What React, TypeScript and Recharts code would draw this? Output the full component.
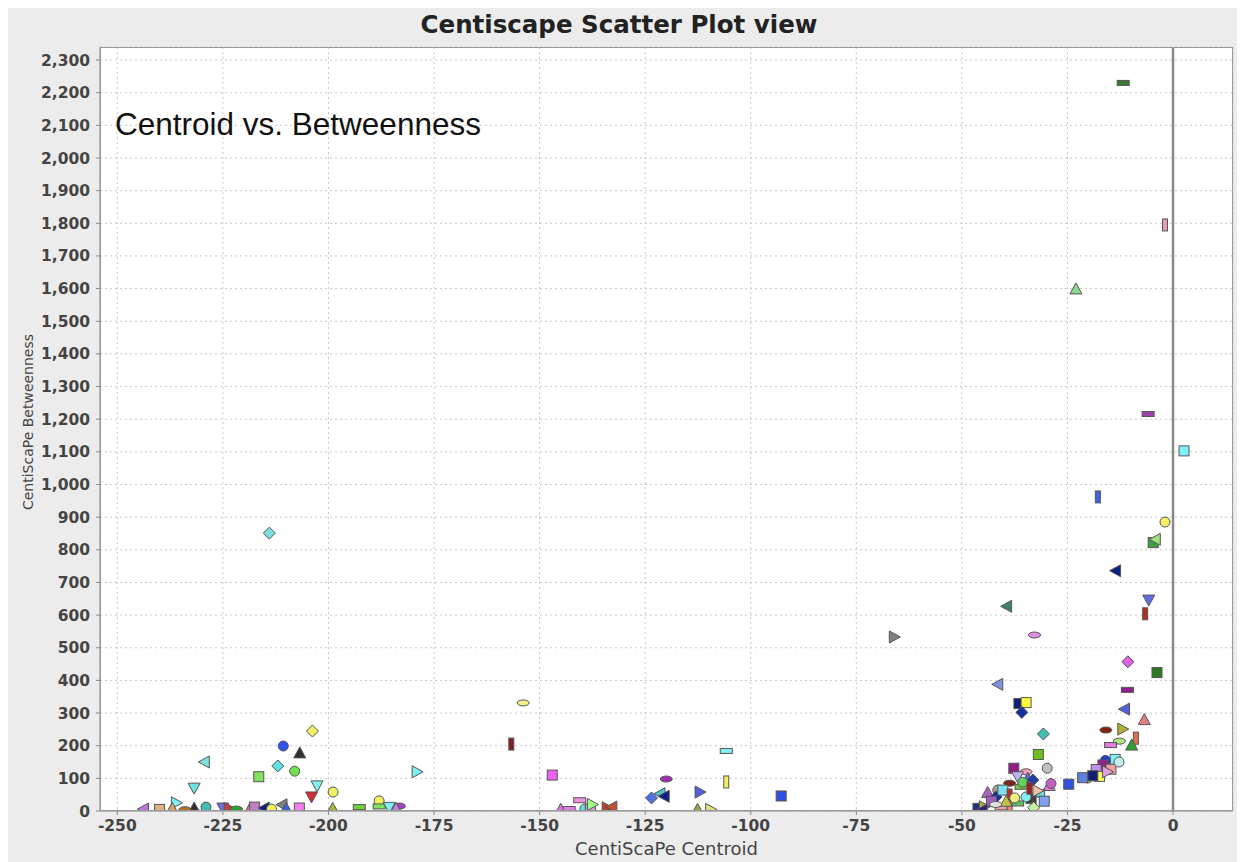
import React from 'react';
import { ScatterChart, Scatter, XAxis, YAxis, CartesianGrid, ReferenceLine } from 'recharts';

// ---- data (CentiScaPe Centroid vs. Betweenness) ----
const centroid: number[] = [
  -11.8, -1.9, -23, -5.9, 2.6, -17.8, -1.9, -4.7, -4.2, -13.6,
  -5.75, -6.6, -39.4, -32.8, -66, -10.7, -3.8, -41.5, -10.8, -36.5,
  -34.8, -35.8, -11.5, -6.8, -30.7, -15.9, -11.9, -8.8, -12.7, -14.8,
  -9.8, -31.9, -29.8, -37.7, -34.8, -24.7, -13.7, -16, -16.6, -14.7,
  -18.2, -17.4, -20.2, -19.0, -21.4, -12.8, -15.5, -36.8, -38.7, -34.4,
  -33.2, -29.3, -28.9, -31.6, -33.6, -34.8, -36, -41.5, -43.9, -41.9,
  -40.3, -38.7, -36.8, -40.7, -46.2, -44.7, -38.7, -35.6, -32, -39.5,
  -43, -37.5, -34, -42, -30.5, -45.2, -33,
  -153.9, -156.7, -147, -140.5, -145, -143, -139.3, -138, -137.5, -134,
  -132.9, -120, -123.5, -121.5, -120.5, -112, -105.8, -105.8, -92.8, -112.6,
  -109.5,
  -214, -203.8, -210.7, -206.8, -212, -208, -229.4, -216.5, -231.8, -202.7,
  -198.9, -204, -179,
  -243.8, -236, -237, -231.8, -229, -225, -223.5, -221.8, -218.5, -217.5,
  -215.2, -213.5, -211, -210, -206.9, -199, -192.7, -188, -188, -185.6,
  -183.2, -184, -240, -234,
];
const betweenness: number[] = [
  2230, 1795, 1599, 1216, 1103, 962, 885, 822, 832, 736,
  646, 604, 627, 539, 533, 457, 424, 388, 371, 329,
  332, 302, 312, 280, 236, 248, 251, 223, 214, 202,
  202, 173, 131, 131, 120, 82, 158, 155, 141, 128,
  127, 106, 101, 108, 102, 150, 120, 105, 85, 100,
  95, 78, 84, 50, 38, 43, 74, 64, 57, 43,
  64, 49, 23, 11, 8, 13, 13, 88, 62, 30,
  30, 40, 70, 20, 30, 3, 10,
  331, 205, 110, 33, 5, 6, 6, 6, 20, 10,
  12, 98, 40, 53, 45, 58, 184, 89, 46, 5,
  5,
  851, 245, 199, 178, 138, 122, 150, 105, 70, 77,
  58, 43, 120,
  6, 25, 8, 9, 12, 9, 8, 6, 9, 12,
  9, 6, 19, 8, 9, 8, 12, 31, 14, 11,
  15, 8, 5, 4,
];

const X_TICKS: number[] = [-250, -225, -200, -175, -150, -125, -100, -75, -50, -25, 0];
const Y_TICKS: number[] = [0, 100, 200, 300, 400, 500, 600, 700, 800, 900, 1000, 1100, 1200,
  1300, 1400, 1500, 1600, 1700, 1800, 1900, 2000, 2100, 2200, 2300];

const TITLE = 'Centiscape Scatter Plot view';
const SUBTITLE = 'Centroid vs. Betweenness';
const X_LABEL = 'CentiScaPe Centroid';
const Y_LABEL = 'CentiScaPe Betweenness';

// ---- marker styles (one per node, as in the JFreeChart view) ----
const MARKER_KIND: string[] = [
  'hr', 'vr', 'tu', 'hr', 'sq', 'vr', 'ci', 'sq', 'tl', 'tl',
  'td', 'vr', 'tl', 'el', 'tr', 'di', 'sq', 'tl', 'hr', 'sq',
  'sq', 'di', 'tl', 'tu', 'di', 'el', 'tr', 'vr', 'el', 'hr',
  'tu', 'sq', 'ci', 'sq', 'el', 'sq', 'sq', 'ci', 'sq', 'sq',
  'sq', 'sq', 'ci', 'sq', 'sq', 'ci', 'tr', 'td', 'el', 'tu',
  'di', 'tu', 'ci', 'tl', 'sq', 'ci', 'hr', 'ci', 'tu', 'di',
  'sq', 'vr', 'hr', 'hr', 'sq', 'tr', 'vr', 'ci', 'tr', 'tu',
  'sq', 'ci', 'vr', 'el', 'sq', 'tl', 'di',
  'el', 'vr', 'sq', 'hr', 'tu', 'hr', 'ci', 'sq', 'tr', 'tr',
  'tl', 'el', 'di', 'tl', 'tl', 'tr', 'hr', 'vr', 'sq', 'tu',
  'tr',
  'di', 'di', 'ci', 'tu', 'di', 'ci', 'tl', 'sq', 'td', 'td',
  'ci', 'td', 'tr',
  'tl', 'tr', 'tu', 'tu', 'ci', 'td', 'tr', 'el', 'tu', 'sq',
  'tl', 'ci', 'tl', 'tu', 'sq', 'tu', 'hr', 'ci', 'hr', 'td',
  'el', 'tu', 'sq', 'el',
];
const MARKER_COLOR: string[] = [
  '#3a7a2a', '#e8a0b0', '#90d890', '#a040b0', '#80f0f8', '#4060e0', '#f8f060', '#40a040', '#a0e080', '#102080',
  '#6070e0', '#b03020', '#408070', '#e090e0', '#808080', '#e060e0', '#2a7a20', '#8090e0', '#902090', '#102070',
  '#ffff40', '#1830a0', '#5060e0', '#e08080', '#40c0b0', '#802010', '#b0b030', '#e07050', '#b0f080', '#e080e0',
  '#30a030', '#70c020', '#c0c0c0', '#902080', '#f0a0c0', '#3050e0', '#80f0ff', '#2040c0', '#902090', '#f0a0a0',
  '#c090f0', '#ffff60', '#80e040', '#102070', '#6080e0', '#c0f0f0', '#e0a0e0', '#c0b0f0', '#802020', '#5070e0',
  '#2040a0', '#e080e0', '#c060c0', '#60e0e0', '#404040', '#80f0f0', '#80c040', '#a0a0a0', '#b060c0', '#1030a0',
  '#80e0f0', '#c03030', '#60c060', '#f0a0a0', '#203080', '#b0b040', '#f08080', '#60d060', '#f0c0a0', '#c0c040',
  '#a060c0', '#f0f080', '#a02020', '#e0e0e0', '#80a0f0', '#302080', '#c0f0a0',
  '#f0f080', '#802020', '#f060f0', '#f090e0', '#e070e0', '#e080e0', '#60e0e0', '#e0a0e0', '#a0ff80', '#c04030',
  '#c05030', '#a030b0', '#5070e0', '#50c0d0', '#102080', '#5060e0', '#80f0f0', '#f0f060', '#3050e0', '#a0a040',
  '#e0e080',
  '#80e0e0', '#f0f060', '#3050f0', '#303030', '#60e0e0', '#70e050', '#80e0e0', '#80e060', '#70e0e0', '#80f0f0',
  '#f0f060', '#d03030', '#80f0f0',
  '#c070e0', '#80f0f0', '#e0a060', '#303030', '#40c0b0', '#7070e0', '#c04040', '#30a030', '#e070a0', '#c080c0',
  '#102080', '#f0f060', '#808080', '#4060e0', '#f080f0', '#b0b040', '#70d040', '#f0f060', '#80e060', '#80f0f0',
  '#a040c0', '#c080e0', '#e0b080', '#b07020',
];

const points = centroid.map((x, i) => ({ x, y: betweenness[i], i }));

const Marker = (props: any) => {
  const { cx, cy, payload } = props;
  if (cx == null || cy == null) return null;
  const i = payload.i;
  const kind = MARKER_KIND[i % MARKER_KIND.length];
  const fill = MARKER_COLOR[i % MARKER_COLOR.length];
  const s = { fill, stroke: '#555', strokeWidth: 1 };
  switch (kind) {
    case 'sq':
      return <rect x={cx - 5} y={cy - 5} width={10} height={10} {...s} />;
    case 'ci':
      return <circle cx={cx} cy={cy} r={5} {...s} />;
    case 'tu':
      return <polygon points={`${cx},${cy - 6} ${cx + 6},${cy + 5} ${cx - 6},${cy + 5}`} {...s} />;
    case 'td':
      return <polygon points={`${cx},${cy + 6} ${cx + 6},${cy - 5} ${cx - 6},${cy - 5}`} {...s} />;
    case 'tl':
      return <polygon points={`${cx - 6},${cy} ${cx + 5},${cy - 6} ${cx + 5},${cy + 6}`} {...s} />;
    case 'tr':
      return <polygon points={`${cx + 6},${cy} ${cx - 5},${cy - 6} ${cx - 5},${cy + 6}`} {...s} />;
    case 'di':
      return <polygon points={`${cx},${cy - 6} ${cx + 6},${cy} ${cx},${cy + 6} ${cx - 6},${cy}`} {...s} />;
    case 'hr':
      return <rect x={cx - 6} y={cy - 2.5} width={12} height={5} {...s} />;
    case 'vr':
      return <rect x={cx - 2.5} y={cy - 6} width={5} height={12} {...s} />;
    case 'el':
    default:
      return <ellipse cx={cx} cy={cy} rx={6} ry={3} {...s} />;
  }
};

const W = 1237;
const H = 854;
const M = { top: 39, right: 12, bottom: 21, left: 32 };
const YW = 60;
const XH = 30;

const tickStyle = { fill: '#444', fontSize: 15.5, fontFamily: 'DejaVu Sans', fontWeight: 'bold' as const };

export default function App() {
  const plotL = M.left + YW;
  const plotT = M.top;
  const plotW = W - M.right - plotL;
  const plotH = H - M.bottom - XH - plotT;
  return (
    <div style={{ position: 'relative', width: W, height: H, background: '#ececec', overflow: 'hidden' }}>
      <ScatterChart width={W} height={H} margin={M}>
        <CartesianGrid fill="#ffffff" stroke="#c8c8c8" strokeDasharray="2 3" />
        <XAxis
          type="number"
          dataKey="x"
          domain={[-254.1, 14.2]}
          ticks={X_TICKS}
          allowDataOverflow
          height={XH}
          tickSize={4}
          tickMargin={5}
          stroke="#888"
          tick={tickStyle}
          interval={0}
        />
        <YAxis
          type="number"
          dataKey="y"
          domain={[0, 2340]}
          ticks={Y_TICKS}
          allowDataOverflow
          width={YW}
          tickSize={4}
          tickMargin={6}
          stroke="#888"
          tick={tickStyle}
          interval={0}
          tickFormatter={(v: number) => v.toLocaleString('en-US')}
        />
        <ReferenceLine x={0} stroke="#8a8a8a" strokeWidth={2.5} />
        <Scatter data={points} shape={Marker} isAnimationActive={false} />
      </ScatterChart>
      <div style={{ position: 'absolute', left: plotL, top: plotT, width: plotW, height: plotH,
        border: '1.5px solid #9a9a9a', boxSizing: 'border-box', pointerEvents: 'none' }} />
      <div style={{ position: 'absolute', left: 0, top: 5, width: 1222, textAlign: 'center',
        fontFamily: 'DejaVu Sans', fontWeight: 'bold', fontSize: 24.5, lineHeight: '24px', color: '#222' }}>{TITLE}</div>
      <div style={{ position: 'absolute', left: 107, top: 101, fontFamily: 'Liberation Sans, Arial',
        fontSize: 31.5, lineHeight: '31px', color: '#111', whiteSpace: 'nowrap' }}>{SUBTITLE}</div>
      <div style={{ position: 'absolute', left: plotL, top: 832, width: plotW, textAlign: 'center',
        fontFamily: 'DejaVu Sans', fontSize: 18, lineHeight: '18px', color: '#444' }}>{X_LABEL}</div>
      <div style={{ position: 'absolute', left: 20, top: 414, width: 0, height: 0 }}>
        <div style={{ position: 'absolute', left: 0, top: 0, transform: 'translate(-50%, -50%) rotate(-90deg)',
          fontFamily: 'DejaVu Sans', fontSize: 14, lineHeight: '14px', color: '#444', whiteSpace: 'nowrap' }}>{Y_LABEL}</div>
      </div>
    </div>
  );
}
